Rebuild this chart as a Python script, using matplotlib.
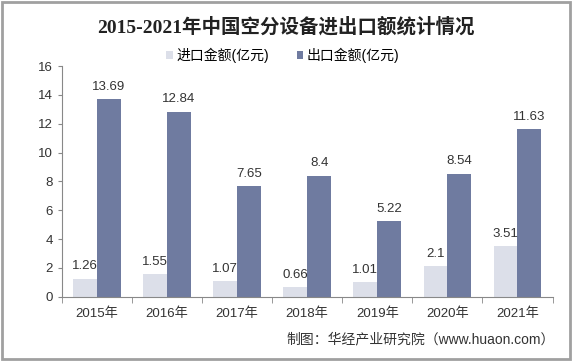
import matplotlib.pyplot as plt
import numpy as np
from matplotlib.patches import Rectangle

plt.rcParams['font.family'] = ['Liberation Sans', 'Noto Sans CJK SC', 'DejaVu Sans']

years = ['2015年', '2016年', '2017年', '2018年', '2019年', '2020年', '2021年']
imp = [1.26, 1.55, 1.07, 0.66, 1.01, 2.1, 3.51]
exp = [13.69, 12.84, 7.65, 8.4, 5.22, 8.54, 11.63]

fig = plt.figure(figsize=(5.72, 3.61), dpi=100)
ax = fig.add_axes([0.108, 0.178, 0.858, 0.639])

x = np.arange(len(years))
w = 0.34
b1 = ax.bar(x - w/2, imp, w, color='#DCDFE9', label='进口金额(亿元)')
b2 = ax.bar(x + w/2, exp, w, color='#6F7BA0', label='出口金额(亿元)')

for r, v in zip(b1, imp):
    ax.text(r.get_x() + r.get_width()/2, v + 0.45, f'{v:g}', ha='center', va='bottom', fontsize=9.5, color='#333333')
for r, v in zip(b2, exp):
    ax.text(r.get_x() + r.get_width()/2, v + 0.45, f'{v:g}', ha='center', va='bottom', fontsize=9.5, color='#333333')

ax.set_xlim(-0.5, len(years) - 0.5)
ax.set_ylim(0, 16)
ax.set_yticks(range(0, 17, 2))
ax.set_xticks(x)
ax.set_xticklabels(years, fontsize=9.5, color='#333333')
ax.set_xticks(np.arange(-0.5, len(years), 1), minor=True)
ax.tick_params(axis='x', which='major', length=0, pad=8)
ax.tick_params(axis='x', which='minor', length=4, color='#888888')
ax.tick_params(axis='y', labelsize=9.5, labelcolor='#333333', length=3, color='#888888')
for s in ['top', 'right']:
    ax.spines[s].set_visible(False)
for s in ['left', 'bottom']:
    ax.spines[s].set_color('#888888')

fig.text(0.5, 0.925, '2015-2021年中国空分设备进出口额统计情况', ha='center', va='center',
         fontsize=14, fontweight='bold', color='#222222',
         family=['Liberation Serif', 'Noto Sans CJK SC'])
ax.legend(loc='lower center', bbox_to_anchor=(0.45, 0.985), ncol=2, frameon=False, fontsize=10,
          handlelength=0.5, handleheight=0.5, handletextpad=0.2, columnspacing=2.0, borderaxespad=0.1)
fig.text(0.97, 0.06, '制图：华经产业研究院（www.huaon.com）', ha='right', va='center',
         fontsize=10, color='#333333')

fig.patches.append(Rectangle((0.003, 0.005), 0.994, 0.99, transform=fig.transFigure,
                             fill=False, edgecolor='#A0A0A0', linewidth=2))

fig.savefig('out.png', dpi=100)
